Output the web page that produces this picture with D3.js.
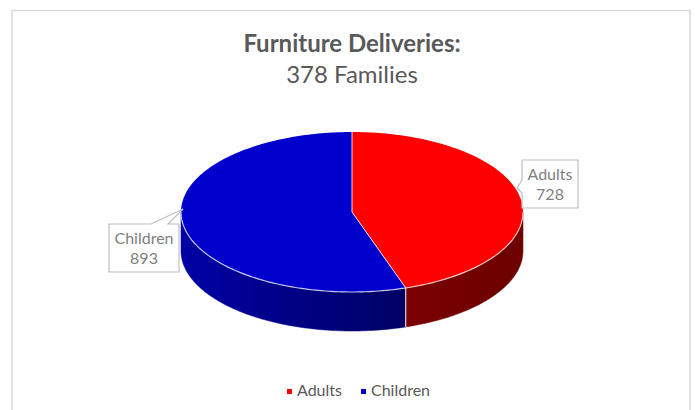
<!DOCTYPE html>
<html>
<head>
<meta charset="utf-8">
<script src="https://cdn.jsdelivr.net/npm/d3@7"></script>
<style>
  html, body { margin: 0; padding: 0; background: #fff; }
  svg { display: block; font-family: Lato, "Noto Sans", sans-serif; }
</style>
</head>
<body>
<div id="chart"></div>
<script>
// data
let categories = ["Adults", "Children"];
let values = [728, 893];
let colors = ["#ff0000", "#0000cc"];
let titleLines = ["Furniture Deliveries:", "378 Families"];

let width = 695, height = 410;
let cx = 352, cy = 212, rx = 171, ry = 80, depth = 39;

let data = categories.map((c, i) => ({category: c, value: values[i], color: colors[i]}));

let pie = d3.pie().value(d => d.value).sort(null).startAngle(0).endAngle(2 * Math.PI);
let arcs = pie(data);

// projection of a pie angle (0 = top, clockwise) onto the tilted ellipse
let px = a => cx + rx * Math.sin(a);
let py = a => cy - ry * Math.cos(a);

let svg = d3.select("#chart").append("svg")
    .attr("width", width)
    .attr("height", height)
    .attr("viewBox", [0, 0, width, height]);

// chart frame
svg.append("rect")
    .attr("x", 12).attr("y", 10.5)
    .attr("width", 678).attr("height", height)
    .attr("fill", "none")
    .attr("stroke", "#d9d9d9")
    .attr("stroke-width", 1.5);

// title
svg.append("g")
    .attr("fill", "#595959")
    .attr("text-anchor", "middle")
    .selectAll("text")
    .data(titleLines)
    .join("text")
    .attr("x", cx)
    .attr("y", (d, i) => 52 + i * 31)
    .attr("font-size", 24)
    .attr("font-weight", (d, i) => i === 0 ? "bold" : "normal")
    .text(d => d);

// gradients for the side walls
let defs = svg.append("defs");
arcs.forEach((d, i) => {
    let base = d3.color(d.data.color);
    let g = defs.append("linearGradient")
        .attr("id", "side" + i)
        .attr("gradientUnits", "userSpaceOnUse")
        .attr("x1", cx - rx).attr("x2", cx + rx)
        .attr("y1", 0).attr("y2", 0);
    g.append("stop").attr("offset", "0%").attr("stop-color", base.darker(0.6));
    g.append("stop").attr("offset", "70%").attr("stop-color", base.darker(2.1));
    g.append("stop").attr("offset", "100%").attr("stop-color", base.darker(2.4));
});

let line = d3.line();
let sample = (a0, a1) => {
    let n = Math.max(2, Math.ceil(Math.abs(a1 - a0) / 0.02));
    return d3.range(n + 1).map(k => a0 + (a1 - a0) * k / n);
};

// side walls: only the front half (angles between pi/2 and 3pi/2) is visible
let sides = svg.append("g");
arcs.forEach((d, i) => {
    let a0 = Math.max(d.startAngle, Math.PI / 2);
    let a1 = Math.min(d.endAngle, 3 * Math.PI / 2);
    if (a1 <= a0) return;
    let angs = sample(a0, a1);
    let pts = angs.map(a => [px(a), py(a)])
        .concat(angs.slice().reverse().map(a => [px(a), py(a) + depth]));
    sides.append("path")
        .attr("d", line(pts) + "Z")
        .attr("fill", `url(#side${i})`)
        .attr("stroke", `url(#side${i})`)
        .attr("stroke-width", 0.5);
});

// white seams where slices meet on the visible wall
arcs.forEach(d => {
    let a = d.startAngle;
    if (a > Math.PI / 2 && a < 3 * Math.PI / 2) {
        sides.append("line")
            .attr("x1", px(a)).attr("y1", py(a))
            .attr("x2", px(a)).attr("y2", py(a) + depth)
            .attr("stroke", "#ffffff")
            .attr("stroke-width", 1);
    }
});

// top faces
let tops = svg.append("g");
arcs.forEach(d => {
    let pts = [[cx, cy]].concat(sample(d.startAngle, d.endAngle).map(a => [px(a), py(a)]));
    tops.append("path")
        .attr("d", line(pts) + "Z")
        .attr("fill", d.data.color)
        .attr("stroke", "none");
});
// seams on top face
arcs.forEach(d => {
    tops.append("line")
        .attr("x1", cx).attr("y1", cy)
        .attr("x2", px(d.startAngle)).attr("y2", py(d.startAngle))
        .attr("stroke", "#ffffff")
        .attr("stroke-opacity", 0.85)
        .attr("stroke-width", 1);
});
// light rim along the front edge of the top
tops.append("path")
    .attr("d", line(sample(Math.PI / 2, 3 * Math.PI / 2).map(a => [px(a), py(a)])))
    .attr("fill", "none")
    .attr("stroke", "#ffffff")
    .attr("stroke-opacity", 0.75)
    .attr("stroke-width", 1.2);

// data label callouts (box layout in pixels)
let callouts = [
    {box: [522, 160, 56, 48], tail: [[522, 180], [517, 188], [522, 193]]},
    {box: [109, 224, 70, 48], tail: [[151, 224], [183, 209], [168, 224]]}
];
let labels = svg.append("g");
arcs.forEach((d, i) => {
    let c = callouts[i];
    let [x, y, w, h] = c.box;
    let g = labels.append("g");
    let outline;
    if (i === 0) {
        outline = [[x, y], [x + w, y], [x + w, y + h], [x, y + h], [x, c.tail[2][1]], c.tail[1], [x, c.tail[0][1]]];
    } else {
        outline = [[x, y], [c.tail[0][0], y], c.tail[1], [c.tail[2][0], y], [x + w, y], [x + w, y + h], [x, y + h]];
    }
    g.append("path")
        .attr("d", line(outline) + "Z")
        .attr("fill", "#ffffff")
        .attr("stroke", "#bfbfbf")
        .attr("stroke-width", 1.2);
    g.selectAll("text")
        .data([d.data.category, d.data.value])
        .join("text")
        .attr("x", x + w / 2)
        .attr("y", (t, k) => y + 20 + k * 20)
        .attr("text-anchor", "middle")
        .attr("font-size", 16)
        .attr("fill", "#7f7f7f")
        .text(t => t);
});

// legend
let legend = svg.append("g").attr("transform", "translate(287,0)");
let lx = 0;
arcs.forEach(d => {
    let item = legend.append("g").attr("transform", `translate(${lx},0)`);
    item.append("rect")
        .attr("x", 0).attr("y", 389)
        .attr("width", 5).attr("height", 5)
        .attr("fill", d.data.color);
    let t = item.append("text")
        .attr("x", 10).attr("y", 396)
        .attr("font-size", 16)
        .attr("fill", "#595959")
        .text(d.data.category);
    lx += 10 + t.node().getComputedTextLength() + 19;
});
</script>
</body>
</html>
